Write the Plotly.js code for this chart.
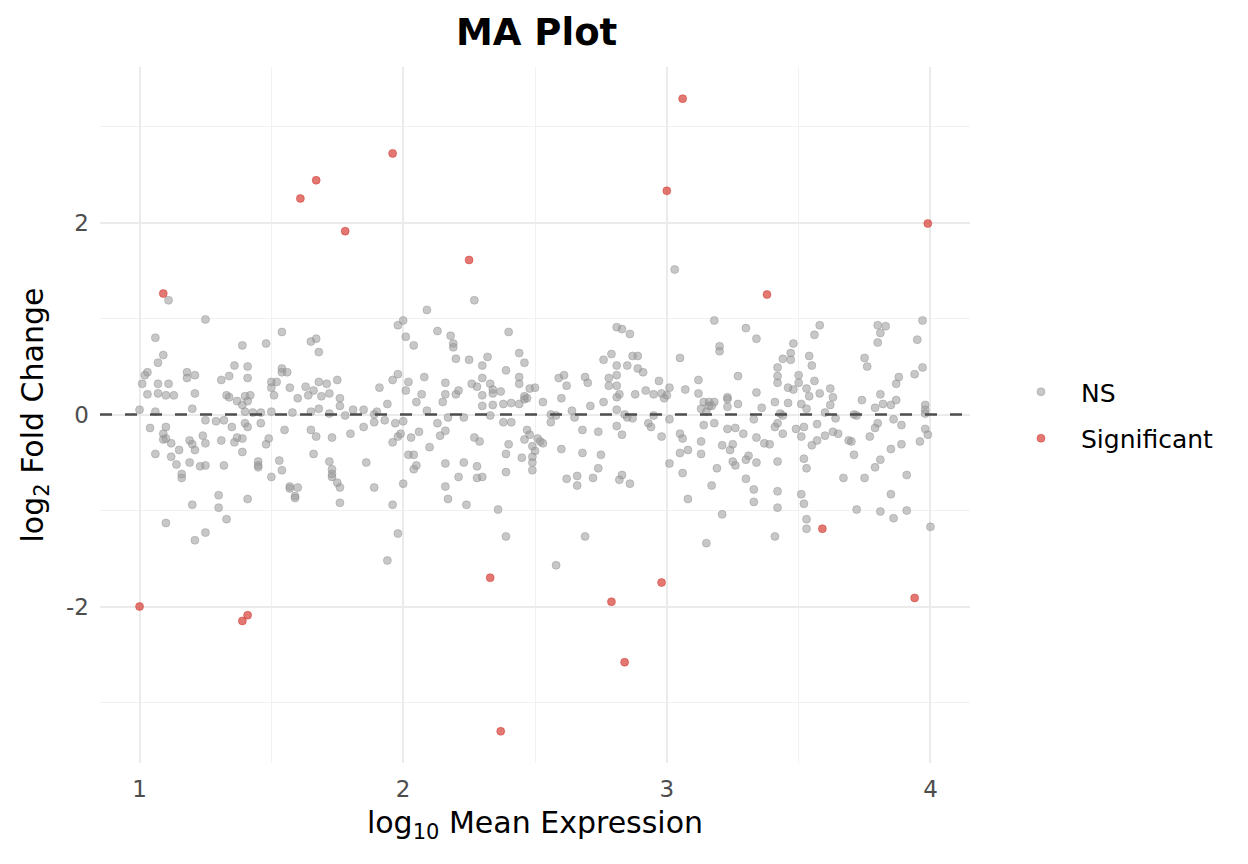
<!DOCTYPE html>
<html>
<head>
<meta charset="utf-8">
<script src="https://cdn.plot.ly/plotly-3.0.1.min.js"></script>
<style>html,body{margin:0;padding:0;background:#fff;}#chart{width:1248px;height:864px;}</style>
</head>
<body>
<div id="chart"></div>
<script>
// Non-significant genes: log10 mean expression (x) and log2 fold change (y)
const nsX = [
1.11,1.25,1.06,1.09,1.07,1.54,1.48,1.39,1.65,1.67,1.68,1.36,1.41,1.54,1.54,1.56,1.03,1.02,1.01,1.18,
1.18,1.21,1.31,1.34,1.41,1.07,1.11,1.03,1.07,1.10,1.13,1.21,1.33,1.34,1.37,1.40,1.42,1.39,1.41,1.50,
1.52,1.50,1.51,1.57,1.63,1.60,1.64,1.66,1.68,1.00,1.06,1.20,1.40,1.43,1.46,1.50,1.58,1.65,1.68,
1.04,1.10,1.09,1.09,1.10,1.12,1.06,1.12,1.15,1.14,1.16,1.16,1.19,1.19,1.20,1.21,1.24,1.25,1.23,1.25,
1.25,1.29,1.32,1.31,1.32,1.35,1.36,1.37,1.39,1.39,1.40,1.41,1.46,1.45,1.45,1.45,1.49,1.48,1.50,1.53,
1.54,1.55,1.57,1.57,1.60,1.59,1.59,1.65,1.67,1.66,1.30,1.30,1.33,1.20,1.41,1.10,1.25,1.21,
2.27,2.09,2.00,1.98,2.01,2.04,2.13,2.18,2.19,2.19,2.40,2.20,2.25,2.30,2.32,2.39,2.44,2.46,1.75,1.71,
1.72,1.69,1.76,1.76,1.81,1.85,1.90,1.94,1.91,1.96,1.98,2.02,2.01,2.08,2.07,2.05,2.09,2.16,2.16,2.15,
2.20,2.21,2.26,2.28,2.30,2.33,2.34,2.34,2.37,2.30,2.30,2.34,2.38,2.41,2.44,2.46,2.48,2.50,2.44,2.44,
2.46,2.47,1.72,1.78,1.89,2.17,2.23,2.33,
1.73,1.80,1.85,1.89,1.93,1.97,2.00,1.96,1.98,1.99,2.03,2.06,2.10,2.13,2.14,2.16,2.27,2.29,2.38,2.41,
2.40,2.39,2.45,2.46,2.47,2.48,2.51,2.49,2.50,2.02,2.04,1.72,1.86,2.49,2.49,2.49,1.73,1.73,1.73,1.75,
1.76,1.76,1.89,1.96,2.00,2.04,2.05,1.98,1.94,2.16,2.23,2.28,2.21,2.16,2.17,2.24,2.28,2.30,2.39,2.36,
2.39,
3.03,3.18,3.30,3.34,3.20,3.20,3.05,3.27,3.12,3.07,3.12,3.01,3.00,2.99,2.98,2.97,2.95,3.14,3.16,3.18,
3.13,3.16,3.17,3.15,3.23,3.23,3.23,3.27,3.34,2.81,2.83,2.86,2.79,2.76,2.87,2.89,2.85,2.81,2.89,2.91,
2.81,2.78,2.78,2.81,2.82,2.81,2.88,2.92,2.81,2.59,2.61,2.62,2.69,2.70,2.60,2.53,2.64,2.71,2.76,3.36,
2.84,2.95,2.56,2.58,2.65,
2.56,2.52,2.53,2.60,2.68,2.75,2.68,2.74,2.81,2.83,2.85,2.87,2.93,2.94,2.98,3.01,3.05,3.06,3.05,3.08,
3.13,3.13,3.14,3.18,3.21,3.24,3.25,3.23,3.26,3.29,3.25,3.31,3.30,3.33,2.74,2.62,2.66,2.66,2.72,2.82,
2.83,2.86,2.69,2.58,3.34,3.19,3.26,3.34,3.30,3.33,3.33,3.17,3.06,3.01,3.08,3.21,3.15,
3.58,3.56,3.48,3.47,3.47,3.44,3.42,3.42,3.42,3.54,3.55,3.50,3.50,3.53,3.56,3.54,3.58,3.46,3.48,3.41,
3.46,3.51,3.53,3.60,3.62,3.63,3.62,3.80,3.83,3.81,3.80,3.75,3.76,3.97,3.95,3.97,3.94,3.88,3.87,3.81,
3.82,3.85,3.87,3.79,3.74,3.98,3.98,3.98,3.71,3.72,3.43,3.44,
3.42,3.41,3.44,3.37,3.39,3.49,3.52,3.51,3.57,3.55,3.57,3.60,3.63,3.65,3.64,3.69,3.70,3.71,3.77,3.80,
3.79,3.86,3.89,3.85,3.89,3.98,3.99,3.96,3.81,3.42,3.52,3.53,3.67,3.75,3.79,3.91,3.42,3.51,3.52,3.42,
3.85,3.72,3.81,3.86,3.91,3.53,3.53,3.41,4.00
];
const nsY = [
1.19,0.99,0.80,0.62,0.54,0.86,0.74,0.72,0.76,0.79,0.65,0.51,0.50,0.48,0.44,0.44,0.44,0.41,0.32,0.44,
0.38,0.41,0.36,0.40,0.38,0.32,0.32,0.21,0.22,0.20,0.20,0.22,0.20,0.18,0.14,0.19,0.20,0.10,0.14,0.34,
0.34,0.28,0.20,0.28,0.29,0.17,0.20,0.25,0.34,0.05,0.03,0.06,0.03,0.02,0.02,0.03,0.02,0.03,0.06,
-0.14,-0.13,-0.20,-0.26,-0.25,-0.30,-0.41,-0.44,-0.37,-0.52,-0.62,-0.66,-0.50,-0.27,-0.31,-0.37,-0.22,-0.30,-0.54,-0.53,
-0.06,-0.07,-0.06,-0.27,-0.53,-0.13,-0.29,-0.24,-0.25,-0.39,-0.09,-0.13,-0.09,-0.49,-0.53,-0.55,-0.25,-0.31,-0.65,-0.48,
-0.58,-0.16,-0.75,-0.77,-0.76,-0.85,-0.87,-0.16,-0.23,-0.41,-0.84,-0.97,-1.09,-0.94,-0.88,-1.13,-1.23,-1.31,
1.19,1.09,0.98,0.93,0.81,0.72,0.87,0.82,0.74,0.70,0.86,0.58,0.57,0.51,0.60,0.46,0.64,0.54,0.36,0.32,
0.22,0.19,0.17,0.09,0.05,0.05,0.03,0.11,0.28,0.36,0.42,0.34,0.25,0.39,0.21,0.13,0.04,0.33,0.21,0.13,
0.21,0.25,0.32,0.29,0.38,0.32,0.26,0.22,0.24,0.20,0.09,0.10,0.11,0.12,0.11,0.16,0.27,0.28,0.32,0.39,
0.19,0.17,0.01,-0.01,0.00,-0.03,-0.03,-0.01,
-0.24,-0.20,-0.13,-0.08,-0.06,-0.09,-0.07,-0.29,-0.23,-0.20,-0.24,-0.18,-0.34,-0.09,-0.22,-0.17,-0.24,-0.28,-0.08,-0.08,
-0.31,-0.41,-0.45,-0.26,-0.16,-0.21,-0.25,-0.33,-0.38,-0.42,-0.42,-0.49,-0.50,-0.44,-0.50,-0.58,-0.57,-0.62,-0.65,-0.71,
-0.76,-0.92,-0.76,-0.94,-0.72,-0.57,-0.53,-1.24,-1.52,-0.51,-0.50,-0.54,-0.65,-0.75,-0.88,-0.94,-0.66,-0.65,-0.60,-0.99,
-1.27,
1.51,0.98,0.90,0.79,0.71,0.66,0.59,0.40,0.36,0.26,0.22,0.28,0.20,0.17,0.22,0.35,0.21,0.13,0.13,0.13,
0.06,0.09,0.09,0.03,0.18,0.16,0.08,0.11,0.23,0.91,0.89,0.84,0.63,0.57,0.61,0.61,0.51,0.51,0.48,0.44,
0.41,0.38,0.30,0.30,0.21,0.18,0.21,0.25,0.05,0.38,0.41,0.30,0.39,0.33,0.17,0.13,0.04,0.09,0.13,0.07,
0.00,-0.01,0.00,-0.01,-0.03,
-0.08,-0.28,-0.30,-0.36,-0.40,-0.42,-0.16,-0.18,-0.12,-0.21,-0.03,-0.04,-0.09,-0.13,-0.23,-0.05,-0.20,-0.25,-0.40,-0.37,
-0.41,-0.28,-0.11,-0.09,-0.32,-0.37,-0.31,-0.15,-0.14,-0.20,-0.49,-0.43,-0.47,-0.05,-0.56,-0.67,-0.64,-0.74,-0.66,-0.68,
-0.63,-0.72,-1.27,-1.57,-0.24,-0.56,-0.53,-0.50,-0.67,-0.78,-0.91,-0.74,-0.61,-0.51,-0.88,-1.04,-1.34,
0.93,0.83,0.74,0.64,0.57,0.58,0.49,0.40,0.33,0.61,0.51,0.41,0.33,0.27,0.35,0.19,0.22,0.28,0.26,0.13,
0.12,0.11,0.06,0.02,0.27,0.18,0.10,0.93,0.92,0.85,0.75,0.59,0.50,0.98,0.78,0.49,0.42,0.39,0.32,0.21,
0.11,0.10,0.15,0.07,0.15,0.10,0.05,0.01,0.00,-0.01,0.01,-0.01,
-0.09,-0.13,-0.20,-0.30,-0.31,-0.15,-0.13,-0.23,-0.10,-0.32,-0.27,-0.22,-0.18,-0.20,-0.04,-0.27,-0.28,-0.42,-0.23,-0.09,
-0.14,-0.05,-0.11,-0.36,-0.31,-0.15,-0.21,-0.28,-0.47,-0.49,-0.46,-0.56,-0.66,-0.66,-0.55,-0.63,-0.80,-0.83,-0.93,-0.97,
-0.83,-0.99,-1.01,-1.08,-1.00,-1.09,-1.19,-1.27,-1.17
];
// Significant genes
const sigX = [1.00,1.09,1.39,1.41,1.61,1.67,1.78,1.96,2.25,2.33,2.37,2.79,2.84,2.98,3.00,3.06,3.38,3.59,3.94,3.99];
const sigY = [-2.00,1.26,-2.15,-2.09,2.25,2.44,1.91,2.72,1.61,-1.70,-3.30,-1.95,-2.58,-1.75,2.33,3.29,1.25,-1.19,-1.91,1.99];
const seriesNames = ["NS", "Significant"];
const xTicks = [1, 2, 3, 4];
const yTicks = [-2, 0, 2];

const FONT = "DejaVu Sans, Liberation Sans, sans-serif";

const traces = [
  {
    x: nsX, y: nsY, type: "scatter", mode: "markers", name: seriesNames[0],
    legendgroup: "a",
    marker: {size: 8, color: "rgba(153,153,153,0.55)", line: {width: 1, color: "rgba(140,140,140,0.4)"}},
    hoverinfo: "x+y"
  },
  {
    x: sigX, y: sigY, type: "scatter", mode: "markers", name: seriesNames[1],
    legendgroup: "b",
    marker: {size: 8, color: "rgba(214,55,45,0.68)", line: {width: 1, color: "rgba(200,40,30,0.4)"}},
    hoverinfo: "x+y"
  }
];

const layout = {
  width: 1248, height: 864,
  paper_bgcolor: "#ffffff", plot_bgcolor: "#ffffff",
  margin: {l: 100, r: 278, t: 67, b: 101},
  font: {family: FONT, color: "#000"},
  title: {text: "<b>MA Plot</b>", font: {family: FONT, size: 37, color: "#000"}, x: 0.43, xanchor: "center", y: 0.963, yanchor: "middle", xref: "container"},
  showlegend: true,
  legend: {
    x: 1.0356, xanchor: "left", y: 0.5, yanchor: "middle",
    font: {family: FONT, size: 25, color: "#000"},
    tracegroupgap: 11, bgcolor: "rgba(0,0,0,0)", itemwidth: 70
  },
  xaxis: {
    range: [0.85, 4.15], tickvals: xTicks, ticktext: xTicks.map(String),
    showgrid: true, gridcolor: "#ebebeb", gridwidth: 2,
    zeroline: false, showline: false, ticks: "",
    tickfont: {family: FONT, size: 23, color: "#4d4d4d"},
    ticklabelstandoff: 10,
    minor: {tickvals: [1.5, 2.5, 3.5], showgrid: true, gridcolor: "#f1f1f1", gridwidth: 1, ticks: ""},
    title: {text: "log<sub>10</sub> Mean Expression", font: {family: FONT, size: 30, color: "#000"}, standoff: 10}
  },
  yaxis: {
    range: [-3.63, 3.62], tickvals: yTicks, ticktext: yTicks.map(String),
    showgrid: true, gridcolor: "#ebebeb", gridwidth: 2,
    zeroline: false, showline: false, ticks: "",
    tickfont: {family: FONT, size: 23, color: "#4d4d4d"},
    ticklabelstandoff: 10,
    minor: {tickvals: [-3, -1, 1, 3], showgrid: true, gridcolor: "#f1f1f1", gridwidth: 1, ticks: ""},
    title: {text: "log<sub>2</sub> Fold Change", font: {family: FONT, size: 30, color: "#000"}, standoff: 13}
  },
  shapes: [{
    type: "line", xref: "paper", x0: 0, x1: 1, yref: "y", y0: 0, y1: 0,
    line: {color: "#4d4d4d", width: 2.4, dash: "12px,13px"}, layer: "above"
  }]
};

Plotly.newPlot("chart", traces, layout, {displayModeBar: false, staticPlot: true});
</script>
</body>
</html>
